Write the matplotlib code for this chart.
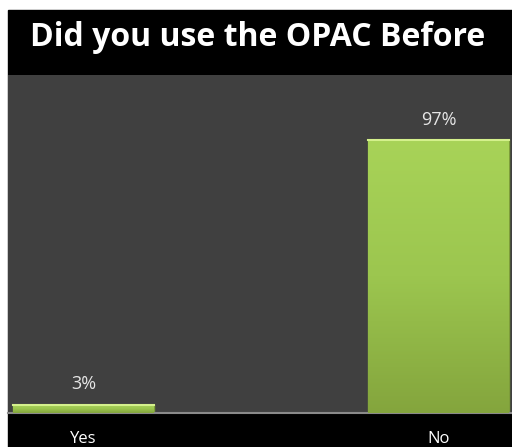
import matplotlib.pyplot as plt
from matplotlib.colors import LinearSegmentedColormap
from matplotlib.patches import Rectangle
import numpy as np

categories = ['Yes', 'No']
values = [3, 97]
labels = ['3%', '97%']

W, H = 512, 447
fig = plt.figure(figsize=(W / 100, H / 100), dpi=100, facecolor='white')

# black background panel (the slide)
bg = Rectangle((8 / W, 0), 1 - 8 / W, (H - 10) / H,
               transform=fig.transFigure, color='black', zorder=-10)
fig.add_artist(bg)

ax = fig.add_axes([8 / W, (H - 413) / H, 504 / W, (413 - 75) / H])
ax.set_zorder(1)
ax.set_facecolor('#404040')

x = np.arange(len(categories))
width = 0.397
bars = ax.bar(x, values, width=width, color='#9cc54c', edgecolor='#7d9c3a', linewidth=1, zorder=2)

# vertical gradient on each bar
cmap = LinearSegmentedColormap.from_list('g', ['#84a53d', '#9cc64f', '#a8d358'])
grad = np.linspace(0, 1, 256).reshape(-1, 1)
for b in bars:
    x0, y0 = b.get_x(), b.get_y()
    w, h = b.get_width(), b.get_height()
    im = ax.imshow(grad, cmap=cmap, origin='lower', aspect='auto',
                   extent=[x0, x0 + w, y0, y0 + h], zorder=3)
    im.set_clip_path(b)
    # light top highlight
    ax.plot([x0, x0 + w], [y0 + h, y0 + h], color='#d4f08c', lw=1.5, zorder=4)

for xi, v, lab in zip(x, values, labels):
    ax.text(xi, v + 4, lab, ha='center', va='bottom', color='#e6e6e6', fontsize=13,
            family='Open Sans')

ax.set_xlim(-0.213, 1.207)
ax.set_ylim(0, 120)
ax.set_yticks([])
ax.set_xticks(x)
ax.set_xticklabels(categories, color='white', fontsize=12, family='Open Sans')
ax.tick_params(axis='x', length=0, pad=13)
for s in ['top', 'left', 'right']:
    ax.spines[s].set_visible(False)
ax.spines['bottom'].set_color('#8a8a8a')
ax.spines['bottom'].set_linewidth(1.5)

fig.text(258 / W, 1 - 37 / H, 'Did you use the OPAC Before', ha='center', va='center',
         color='white', fontsize=23, fontweight='bold', family='Open Sans')

fig.savefig('out.png', dpi=100, facecolor='white')
